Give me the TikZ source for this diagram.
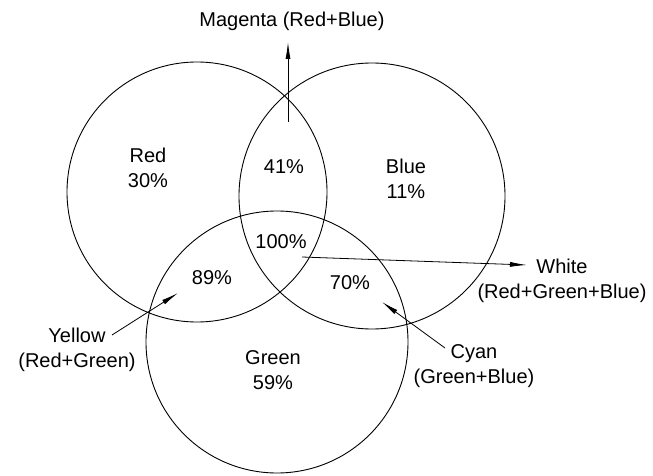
\documentclass[tikz,border=0pt]{standalone}
\usepackage{fontspec}
\setmainfont{Liberation Sans}
\usetikzlibrary{arrows.meta}

\begin{document}
\begin{tikzpicture}[
	x=1pt, y=-1pt,
	ring/.style={ circle, draw, line width=0.9pt, inner sep=0pt, minimum size=#1 },
	tag/.style={ align=center, inner sep=1pt, font=\fontsize{20}{25}\selectfont },
	pointer/.style={ line width=0.8pt, -{Latex[length=17pt,width=5pt]} }
]

\useasboundingbox (0,0) rectangle (653,476);

% the three discs
\node[ring=260pt] at (197,192) (red) {};
\node[ring=266pt] at (372,196) (blue) {};
\node[ring=262pt] at (277,342) (green) {};

% inside labels
\node[tag] at (148,168) (redtag) {Red\\30\%};
\node[tag] at (406,179) (bluetag) {Blue\\11\%};
\node[tag] at (273,370) (greentag) {Green\\59\%};
\node[tag] at (284,167) (rbtag) {41\%};
\node[tag] at (281,242) (alltag) {100\%};
\node[tag] at (212,278) (rgtag) {89\%};
\node[tag] at (350,283) (gbtag) {70\%};

% outside labels
\node[tag] at (292,21) (magenta) {Magenta (Red+Blue)};
\node[tag] at (562,281) (white) {White\\(Red+Green+Blue)};
\node[tag] at (77,350) (yellow) {Yellow\\(Red+Green)};
\node[tag] at (474,366) (cyan) {Cyan\\(Green+Blue)};

% pointers
\coordinate (mtail) at (288,122);
\coordinate (mtip) at (288,42);
\coordinate (wtail) at (302,257);
\coordinate (wtip) at (527,265);
\coordinate (ytail) at (112,335);
\coordinate (ytip) at (178,293);
\coordinate (ctail) at (445,348);
\coordinate (ctip) at (382,302);

\draw[pointer] (mtail) -- (mtip);
\draw[pointer] (wtail) -- (wtip);
\draw[pointer] (ytail) -- (ytip);
\draw[pointer] (ctail) -- (ctip);

\end{tikzpicture}
\end{document}
